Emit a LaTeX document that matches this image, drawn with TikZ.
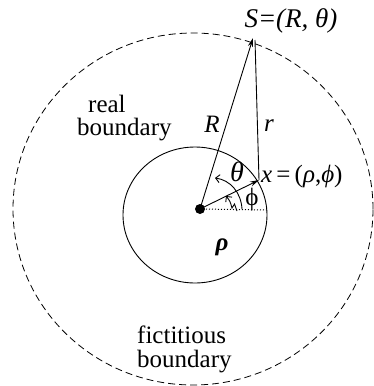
\documentclass[tikz,border=0pt]{standalone}
\usepackage{fontspec}
\setmainfont{Liberation Serif}
\usetikzlibrary{arrows.meta}
\begin{document}
\begin{tikzpicture}[x=1pt,y=-1pt,
  lbl/.style={inner sep=0pt, font=\fontsize{25}{27}\selectfont},
  twoline/.style={inner sep=0pt, align=left, anchor=north west, font=\fontsize{25}{22.5}\selectfont},
  bigl/.style={inner sep=0pt, font=\fontsize{28}{30}\selectfont},
  vec/.style={line width=0.9pt, -{Stealth[length=9pt,width=5pt]}},
  turn/.style={line width=0.9pt, -{Straight Barb[length=4pt,width=8pt]}},
  thin line/.style={line width=0.9pt}]
\useasboundingbox (0,0) rectangle (374,386);
% boundaries
\draw[line width=0.8pt, dash pattern=on 7pt off 4pt] (193,209) ellipse [x radius=180pt, y radius=176pt];
\draw[thin line] (195,215) ellipse [x radius=72pt, y radius=68pt];
% points
\node[circle, fill, inner sep=0pt, minimum size=10pt] (o) at (200,209) {};
\coordinate (S) at (253,38);
\coordinate (Sr) at (255,40);
\coordinate (X) at (259,180);
\coordinate (E) at (267,210);
\coordinate (ta) at (242,209);
\coordinate (tb) at (215,178);
\coordinate (pa) at (237,211);
\coordinate (pb) at (226,196);
% connectors
\draw[vec] (o.center) -- (S);
\draw[thin line] (Sr) -- (X);
\draw[vec] (o.center) -- (X);
\draw[dotted, line width=1pt] (o.center) -- (E);
\draw[turn] (ta) .. controls (241,192) and (230,180) .. (tb);
\draw[turn] (pa) -- (234.5,204) -- (232,208) .. controls (230,201) .. (pb);
% labels
\node[lbl, font=\fontsize{27}{29}\selectfont] (Slab) at (291,21) {\textit{S=(R, θ)}};
\node[lbl] (Rlab) at (212,124) {\textit{R}};
\node[lbl] (rlab) at (269,126) {\textit{r}};
\node[bigl] (thlab) at (237,172) {\textit{θ}};
\node[lbl, anchor=base west] (xlab) at (261,182) {\textit{x}\,=\,(\textit{ρ},\textit{ϕ})};
\node[lbl] (phlab) at (252,199) {ϕ};
\node[lbl] (rholab) at (222,247) {\textbf{\textit{ρ}}};
\node[twoline] (real) at (77,95) {\hspace{11pt}real\\boundary};
\node[twoline, font=\fontsize{25}{24}\selectfont] (fic) at (137,326) {fictitious\\boundary};
\end{tikzpicture}
\end{document}
